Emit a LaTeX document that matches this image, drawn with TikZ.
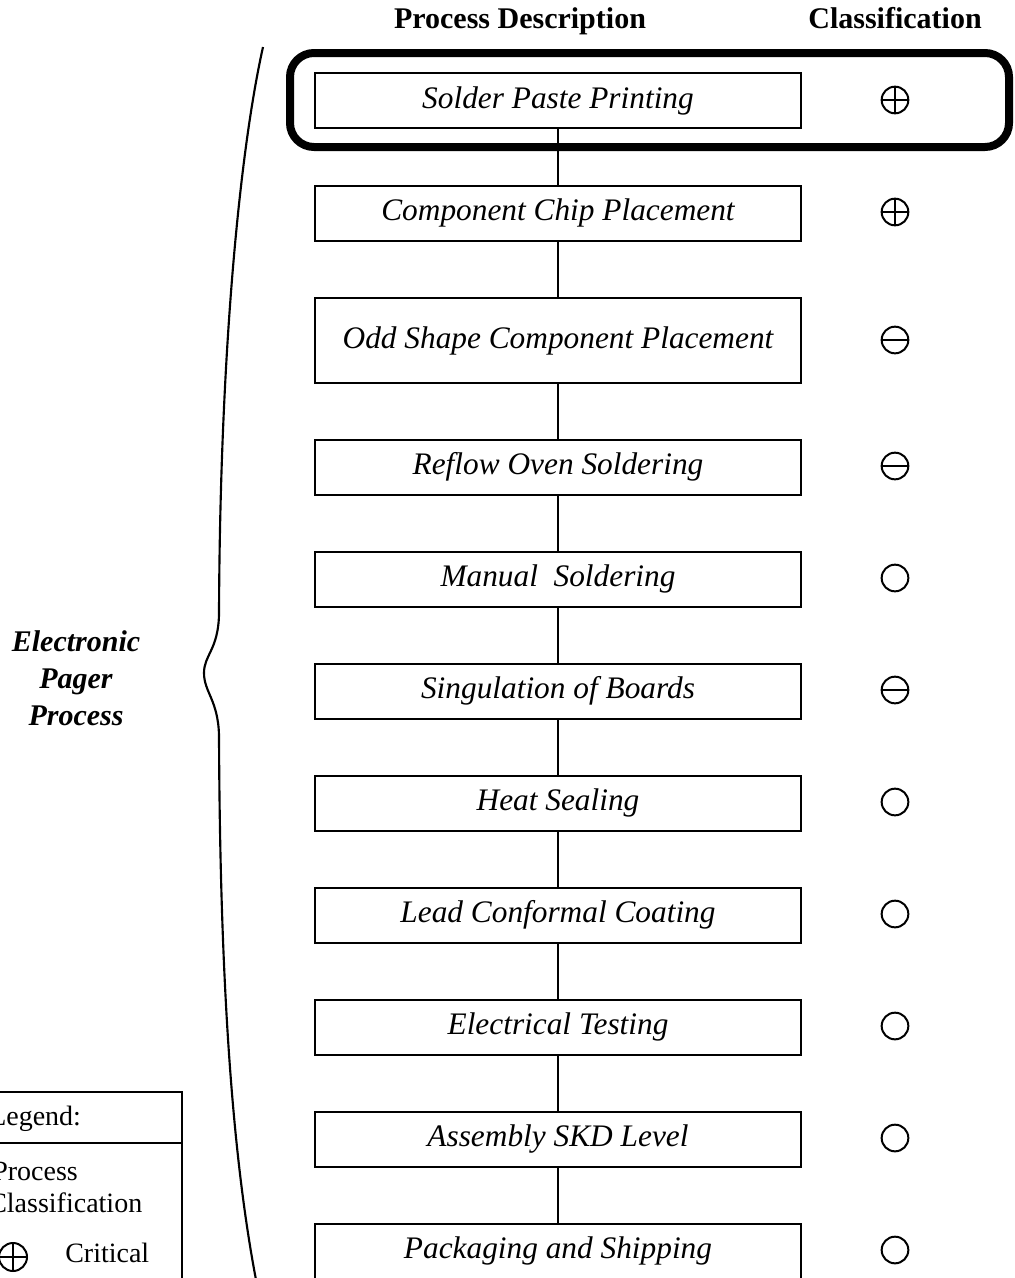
\documentclass[tikz,border=0pt]{standalone}
\usepackage{fontspec}
\setmainfont{Liberation Serif}
\begin{document}
\begin{tikzpicture}[x=0.75pt,y=-0.75pt,
  stepbox/.style={draw, line width=1.5pt, minimum width=364.5pt, minimum height=41.25pt, inner sep=0pt,
    font=\fontsize{23.5pt}{28pt}\selectfont\itshape},
  tallbox/.style={stepbox, minimum height=63.75pt},
  link/.style={line width=1.5pt},
  symbase/.style={circle, draw, line width=1.5pt, minimum size=20pt, inner sep=0pt},
  critsym/.style={symbase, path picture={\draw[line width=1.5pt]
      (path picture bounding box.north) -- (path picture bounding box.south)
      (path picture bounding box.west) -- (path picture bounding box.east);}},
  semisym/.style={symbase, path picture={\draw[line width=1.5pt]
      (path picture bounding box.west) -- (path picture bounding box.east);}},
  plainsym/.style={symbase},
  header/.style={font=\fontsize{22.5pt}{26pt}\selectfont\bfseries},
  legtext/.style={font=\fontsize{21pt}{25pt}\selectfont, inner sep=0pt}
]
\useasboundingbox (0,0) rectangle (1014,1278);
\clip (0,0) rectangle (1014,1278);
\fill[white] (0,0) rectangle (1014,1278);

% headers
\node[header, anchor=base] (hproc) at (520,28) {Process Description};
\node[header, anchor=base] (hclass) at (895,28) {Classification};

% highlight frame
\draw[line width=6pt, rounded corners=18pt] (290,53) rectangle (1009,147);

% process boxes
\node[stepbox] (b1) at (558,100.5) {Solder Paste Printing};
\node[stepbox] (b2) at (558,213) {Component Chip Placement};
\node[tallbox] (b3) at (558,340.5) {Odd Shape Component Placement};
\node[stepbox] (b4) at (558,467) {Reflow Oven Soldering};
\node[stepbox] (b5) at (558,579) {Manual\ \ Soldering};
\node[stepbox] (b6) at (558,691) {Singulation of Boards};
\node[stepbox] (b7) at (558,803) {Heat Sealing};
\node[stepbox] (b8) at (558,915) {Lead Conformal Coating};
\node[stepbox] (b9) at (558,1027) {Electrical Testing};
\node[stepbox] (b10) at (558,1139) {Assembly SKD Level};
\node[stepbox] (b11) at (558,1251) {Packaging and Shipping};

\foreach \a/\b in {b1/b2,b2/b3,b3/b4,b4/b5,b5/b6,b6/b7,b7/b8,b8/b9,b9/b10,b10/b11}
  \draw[link] (\a) -- (\b);

% classification symbols
\node[critsym] (s1) at (895,100) {};
\node[critsym] (s2) at (895,212) {};
\node[semisym] (s3) at (895,340) {};
\node[semisym] (s4) at (895,466) {};
\node[plainsym] (s5) at (895,578) {};
\node[semisym] (s6) at (895,690) {};
\node[plainsym] (s7) at (895,802) {};
\node[plainsym] (s8) at (895,914) {};
\node[plainsym] (s9) at (895,1026) {};
\node[plainsym] (s10) at (895,1138) {};
\node[plainsym] (s11) at (895,1250) {};

% brace
\draw[line width=1.6pt] (263,47) .. controls (240,150) and (220,350) .. (219,615)
  .. controls (218,650) and (204,655) .. (204,673)
  .. controls (204,692) and (218,700) .. (219,735)
  .. controls (220,980) and (232,1160) .. (258,1290);

% side label
\node[align=center, font=\fontsize{22.5pt}{27.75pt}\selectfont\bfseries\itshape] (lbl) at (76,678)
  {Electronic\\Pager\\Process};

% legend
\draw[line width=1.1pt] (-10,1092) rectangle (182,1300);
\draw[line width=1.1pt] (-10,1143) -- (182,1143);
\node[legtext, anchor=base west] (lg) at (-11,1125) {Legend:};
\node[legtext, anchor=base west] (lp) at (-8,1180) {Process};
\node[legtext, anchor=base west] (lc) at (-12,1212) {Classification};
\node[critsym, minimum size=21pt] (ls) at (13,1257) {};
\node[legtext, anchor=base west] (lcr) at (65,1262) {Critical};
\end{tikzpicture}
\end{document}
